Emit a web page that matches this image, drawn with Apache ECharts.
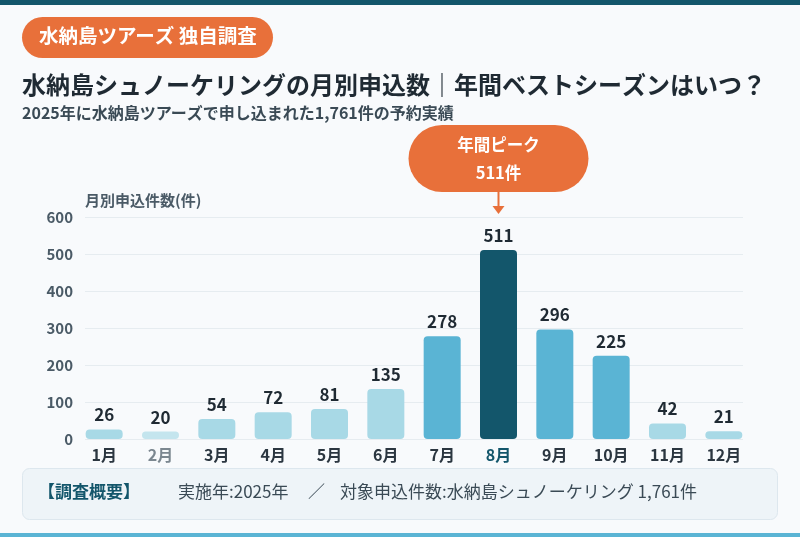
<!DOCTYPE html>
<html>
<head>
<meta charset="utf-8">
<script src="https://cdn.jsdelivr.net/npm/echarts@6/dist/echarts.min.js"></script>
<style>
  html, body { margin: 0; padding: 0; background: #f8fafc; }
  #chart { width: 800px; height: 537px; }
</style>
</head>
<body>
<div id="chart"></div>
<script>
const months = ['1月', '2月', '3月', '4月', '5月', '6月', '7月', '8月', '9月', '10月', '11月', '12月']
const bookings = [26, 20, 54, 72, 81, 135, 278, 511, 296, 225, 42, 21]
const yTicks = [0, 100, 200, 300, 400, 500, 600]

const FONT = '"Noto Sans CJK JP", "Noto Sans", sans-serif'
const DARK = '#13566b'
const ORANGE = '#e8703a'

// colour tier per month: peak / high / low / lowest
function barColor (v) {
  if (v === Math.max(...bookings)) return DARK
  if (v >= 200) return '#5ab4d4'
  if (v === Math.min(...bookings)) return '#c4e5ee'
  return '#a8d9e6'
}

const peakIndex = bookings.indexOf(Math.max(...bookings))
const lowIndex = bookings.indexOf(Math.min(...bookings))
const total = bookings.reduce((a, b) => a + b, 0)

const chart = echarts.init(document.getElementById('chart'))

const option = {
  backgroundColor: '#f8fafc',
  textStyle: { fontFamily: FONT },
  grid: [
    { left: 85, right: 57, top: 217, bottom: 98 },
    { left: 76, right: 48, top: 217, bottom: 98 }
  ],
  xAxis: [
    { gridIndex: 0, type: 'category', data: months, show: false },
    {
      gridIndex: 1,
      type: 'category',
      data: months,
      axisLine: { show: false },
      axisTick: { show: false },
      axisLabel: {
        interval: 0,
        margin: 8,
        fontSize: 16,
        fontWeight: 'bold',
        color: '#2b3640',
        formatter: (v, i) => i === peakIndex ? `{peak|${v}}` : i === lowIndex ? `{low|${v}}` : v,
        rich: {
          peak: { fontSize: 16, fontWeight: 'bold', color: DARK, fontFamily: FONT },
          low: { fontSize: 16, fontWeight: 'bold', color: '#7b8790', fontFamily: FONT }
        }
      }
    }
  ],
  yAxis: [
    {
      gridIndex: 0,
      type: 'value',
      min: yTicks[0],
      max: yTicks[yTicks.length - 1],
      interval: 100,
      name: '月別申込件数(件)',
      nameLocation: 'end',
      nameGap: 9,
      nameTextStyle: { align: 'left', color: '#4a5a66', fontSize: 15, fontWeight: 'bold' },
      axisLine: { show: false },
      axisTick: { show: false },
      axisLabel: { margin: 12, fontSize: 15, fontWeight: 'bold', color: '#4a5a66' },
      splitLine: { lineStyle: { color: '#e6ecf0', width: 1 } }
    },
    {
      gridIndex: 1,
      type: 'value',
      min: yTicks[0],
      max: yTicks[yTicks.length - 1],
      interval: 100,
      show: false,
      splitLine: { show: false }
    }
  ],
  series: [
    {
      type: 'bar',
      xAxisIndex: 1,
      yAxisIndex: 1,
      barWidth: 37,
      data: bookings.map(v => ({ value: v, itemStyle: { color: barColor(v) } })),
      itemStyle: { borderRadius: 4 },
      label: {
        show: true,
        position: 'top',
        distance: 6,
        fontSize: 17,
        fontWeight: 'bold',
        color: '#1f2a33'
      }
    }
  ],
  graphic: [
    { type: 'rect', left: 0, top: 0, shape: { width: 800, height: 5 }, style: { fill: DARK } },
    { type: 'rect', left: 0, top: 533, shape: { width: 800, height: 4 }, style: { fill: '#5ab4d4' } },
    { type: 'rect', left: 22, top: 17, shape: { width: 251, height: 41, r: 20.5 }, style: { fill: ORANGE } },
    {
      type: 'text', left: 39, top: 26,
      style: { text: '水納島ツアーズ 独自調査', fill: '#fff', font: `bold 19.5px ${FONT}` }
    },
    {
      type: 'text', left: 22, top: 73,
      style: { text: '水納島シュノーケリングの月別申込数｜年間ベストシーズンはいつ？', fill: '#1f2a33', font: `bold 24px ${FONT}` }
    },
    {
      type: 'text', left: 22, top: 105,
      style: { text: `2025年に水納島ツアーズで申し込まれた${total.toLocaleString()}件の予約実績`, fill: '#3a4a55', font: `bold 16px ${FONT}` }
    },
    {
      type: 'rect', left: 22, top: 468,
      shape: { width: 755, height: 51, r: 7 },
      style: { fill: '#eef4f8', stroke: '#dde7ee', lineWidth: 1 }
    },
    {
      type: 'text', left: 38, top: 483,
      style: { text: '【調査概要】', fill: DARK, font: `bold 17px ${FONT}` }
    },
    {
      type: 'text', left: 178, top: 483,
      style: { text: '実施年:2025年', fill: '#3a4a55', font: `17px ${FONT}` }
    },
    {
      type: 'text', left: 308, top: 483,
      style: { text: '／', fill: '#3a4a55', font: `17px ${FONT}` }
    },
    {
      type: 'text', left: 340, top: 483,
      style: { text: `対象申込件数:水納島シュノーケリング ${total.toLocaleString()}件`, fill: '#3a4a55', font: `17px ${FONT}` }
    }
  ]
}

chart.setOption(option)

// peak callout placed above the peak bar
const px = chart.convertToPixel({ xAxisIndex: 1, yAxisIndex: 1 }, [months[peakIndex], 0])[0]
chart.setOption({
  graphic: option.graphic.concat([
    { type: 'rect', x: px - 90, y: 125, shape: { width: 180, height: 67, r: 33.5 }, style: { fill: ORANGE } },
    {
      type: 'text', x: px, y: 145,
      style: { text: '年間ピーク', fill: '#fff', font: `bold 16.5px ${FONT}`, align: 'center', verticalAlign: 'middle' }
    },
    {
      type: 'text', x: px, y: 173,
      style: { text: `${bookings[peakIndex]}件`, fill: '#fff', font: `bold 16.5px ${FONT}`, align: 'center', verticalAlign: 'middle' }
    },
    { type: 'line', shape: { x1: px, y1: 192, x2: px, y2: 207 }, style: { stroke: ORANGE, lineWidth: 2 } },
    { type: 'polygon', shape: { points: [[px - 6, 206], [px + 6, 206], [px, 214]] }, style: { fill: ORANGE } }
  ])
})
</script>
</body>
</html>
